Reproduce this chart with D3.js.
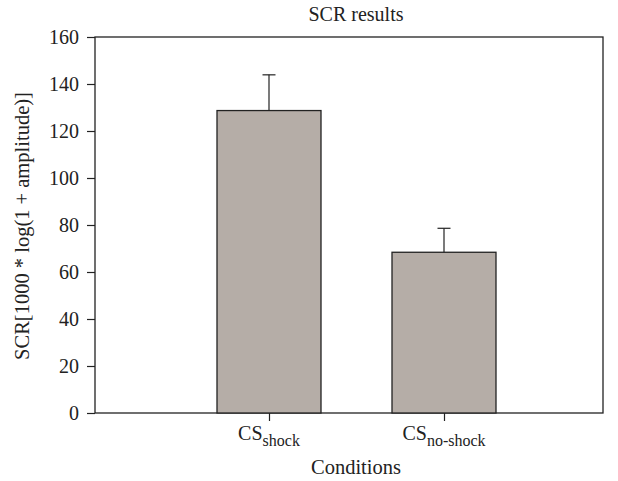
<!DOCTYPE html>
<html>
<head>
<meta charset="utf-8">
<script src="https://cdn.jsdelivr.net/npm/d3@7"></script>
<style>
  body { margin: 0; background: #fff; }
  text { font-family: "Liberation Serif", "DejaVu Serif", serif; fill: #222; }
</style>
</head>
<body>
<div id="chart"></div>
<script>
// data
var conditions = ["shock", "no-shock"];
var means = [128.7, 68.4];
var errors = [15.2, 10.2];
var yTicks = [0, 20, 40, 60, 80, 100, 120, 140, 160];

var svgWidth = 618;
var svgHeight = 481;
var margin = { top: 37, right: 15, bottom: 68, left: 95 };
var width = svgWidth - margin.left - margin.right;
var height = svgHeight - margin.top - margin.bottom;

var svg = d3.select("#chart")
  .append("svg")
  .attr("width", svgWidth)
  .attr("height", svgHeight);

var chart = svg.append("g")
  .attr("transform", `translate(${margin.left}, ${margin.top})`);

var x = d3.scalePoint()
  .domain(conditions)
  .range([174, 349]);

var barWidth = 104;

var y = d3.scaleLinear()
  .domain([0, 160])
  .range([height, 0]);

// frame
chart.append("rect")
  .attr("width", width)
  .attr("height", height)
  .attr("fill", "none")
  .attr("stroke", "#222")
  .attr("stroke-width", 1.3);

// bars
chart.selectAll(".bar")
  .data(conditions)
  .enter()
  .append("rect")
  .attr("class", "bar")
  .attr("x", d => x(d) - barWidth / 2)
  .attr("y", (d, i) => y(means[i]))
  .attr("width", barWidth)
  .attr("height", (d, i) => height - y(means[i]))
  .attr("fill", "#b5ada7")
  .attr("stroke", "#222")
  .attr("stroke-width", 1.3);

// error bars (upper only)
var err = chart.selectAll(".err")
  .data(conditions)
  .enter()
  .append("g")
  .attr("class", "err")
  .attr("stroke", "#222")
  .attr("stroke-width", 1.2);

err.append("line")
  .attr("x1", d => x(d))
  .attr("x2", d => x(d))
  .attr("y1", (d, i) => y(means[i]))
  .attr("y2", (d, i) => y(means[i] + errors[i]));

err.append("line")
  .attr("x1", d => x(d) - 6.5)
  .attr("x2", d => x(d) + 6.5)
  .attr("y1", (d, i) => y(means[i] + errors[i]))
  .attr("y2", (d, i) => y(means[i] + errors[i]));

// y axis
var leftAxis = d3.axisLeft(y).tickValues(yTicks).tickSize(8).tickPadding(8);
var ya = chart.append("g").call(leftAxis);
ya.select(".domain").remove();
ya.selectAll("line").attr("stroke", "#222").attr("stroke-width", 1.2);
ya.selectAll("text")
  .style("font-size", "20px")
  .style("font-family", "Liberation Serif, serif")
  .attr("fill", "#222")
  .attr("dy", "0.34em");

// x axis
var bottomAxis = d3.axisBottom(x).tickSize(8).tickFormat("");
var xa = chart.append("g")
  .attr("transform", `translate(0, ${height})`)
  .call(bottomAxis);
xa.select(".domain").remove();
xa.selectAll("line").attr("stroke", "#222").attr("stroke-width", 1.2);

var labels = chart.selectAll(".xlab")
  .data(conditions)
  .enter()
  .append("text")
  .attr("class", "xlab")
  .attr("x", d => x(d))
  .attr("y", height + 27)
  .attr("text-anchor", "middle")
  .style("font-size", "20px");
labels.append("tspan").text("CS");
labels.append("tspan")
  .attr("dy", 6)
  .style("font-size", "16px")
  .text(d => d);

// titles
svg.append("text")
  .attr("x", 356)
  .attr("y", 21)
  .attr("text-anchor", "middle")
  .style("font-size", "20px")
  .text("SCR results");

svg.append("text")
  .attr("x", 356)
  .attr("y", 474)
  .attr("text-anchor", "middle")
  .style("font-size", "20.5px")
  .text("Conditions");

svg.append("text")
  .attr("transform", "translate(29, 226) rotate(-90)")
  .attr("text-anchor", "middle")
  .style("font-size", "20.5px")
  .text("SCR[1000 * log(1 + amplitude)]");
</script>
</body>
</html>
